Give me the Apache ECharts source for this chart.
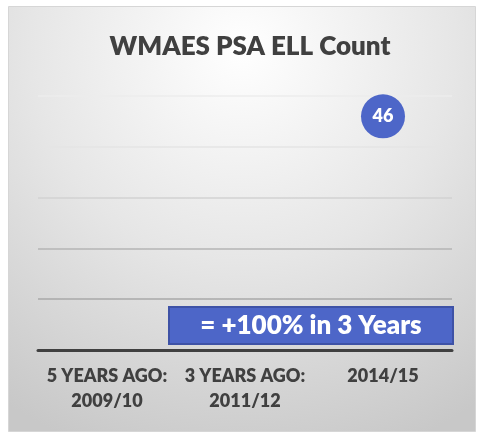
<!DOCTYPE html>
<html>
<head>
<meta charset="utf-8">
<script src="https://cdn.jsdelivr.net/npm/echarts@6/dist/echarts.min.js"></script>
<style>
html, body { margin: 0; padding: 0; background: #fff; }
#chart { width: 477px; height: 433px; }
</style>
</head>
<body>
<div id="chart"></div>
<script>
// 数据
var categories = ['5 YEARS AGO:\n2009/10', '3 YEARS AGO:\n2011/12', '2014/15'];
var ellCount = [null, null, 46];
var yTicks = [0, 10, 20, 30, 40, 50];
var noteText = '= +100% in 3 Years';

var fontFam = 'Lato, "Open Sans", sans-serif';
var chart = echarts.init(document.getElementById('chart'));

var option = {
	animation: false,
	title: {
		text: 'WMAES PSA ELL Count',
		left: 245,
		top: 29,
		textAlign: 'center',
		textStyle: { fontFamily: fontFam, fontSize: 26, fontWeight: 800, color: '#404040' }
	},
	grid: { left: 38, right: 25, top: 96, bottom: 83 },
	xAxis: {
		type: 'category',
		data: categories,
		axisLine: { lineStyle: { color: '#404040', width: 3 } },
		axisTick: { show: false },
		axisLabel: {
			margin: 14,
			fontFamily: fontFam, fontSize: 18, fontWeight: 800, color: '#404040',
			lineHeight: 25, interval: 0
		}
	},
	yAxis: {
		type: 'value',
		min: yTicks[0],
		max: yTicks[yTicks.length - 1],
		interval: 10,
		axisLabel: { show: false },
		axisLine: { show: false },
		axisTick: { show: false },
		splitLine: { lineStyle: { color: ['#404040', '#a8a8a8', '#b4b4b4', '#d2d2d2', '#e4e4e4', '#ececec'], width: 1.5 } }
	},
	graphic: [{
		type: 'rect',
		z: -10,
		silent: true,
		shape: { x: 8.5, y: 6.5, width: 467, height: 425 },
		style: {
			fill: new echarts.graphic.RadialGradient(0.5, 0.1, 1.0, [
				{ offset: 0, color: '#ffffff' },
				{ offset: 0.5, color: '#e6e6e6' },
				{ offset: 1, color: '#c8c8c8' }
			]),
			stroke: '#d6d6d6',
			lineWidth: 1
		}
	}, {
		type: 'group',
		left: 168,
		top: 306,
		children: [{
			type: 'rect',
			shape: { x: 0, y: 0, width: 284, height: 37 },
			style: { fill: '#4d66c8', stroke: '#3e52a6', lineWidth: 2 }
		}, {
			type: 'text',
			x: 142,
			y: 19,
			style: {
				text: noteText,
				align: 'center',
				verticalAlign: 'middle',
				fill: '#ffffff',
				font: '800 26px ' + fontFam
			}
		}]
	}],
	series: [{
		type: 'scatter',
		data: ellCount,
		symbol: 'circle',
		symbolSize: 44,
		itemStyle: { color: '#4d66c8', opacity: 1 },
		label: {
			show: true,
			position: 'inside',
			color: '#ffffff',
			fontFamily: fontFam,
			fontSize: 18,
			fontWeight: 800
		}
	}]
};
chart.setOption(option);
</script>
</body>
</html>
